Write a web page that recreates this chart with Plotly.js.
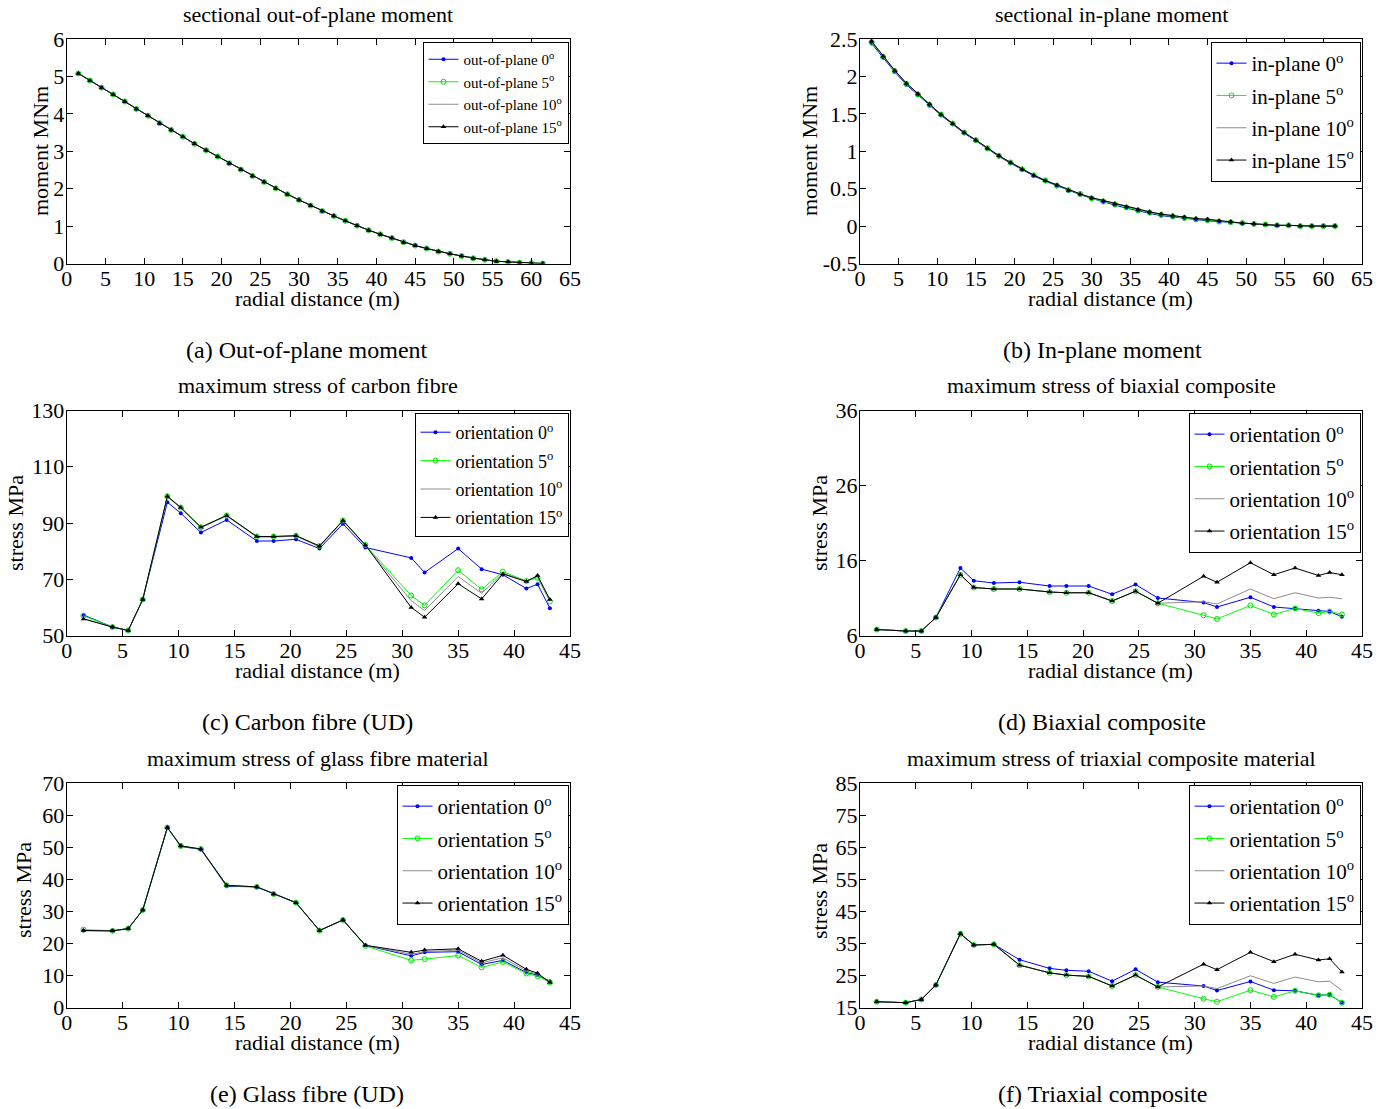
<!DOCTYPE html>
<html><head><meta charset="utf-8">
<script src="https://cdn.plot.ly/plotly-3.0.1.min.js"></script>
<style>html,body{margin:0;padding:0;background:#fff}</style>
</head><body><div id="chart" style="width:1392px;height:1109px"></div>
<script>
const W = 1392, H = 1109;

// ---------------- data ----------------
const momentX = [1.5,3,4.5,6,7.5,9,10.5,12,13.5,15,16.5,18,19.5,21,22.5,24,25.5,27,28.5,30,31.5,33,34.5,36,37.5,39,40.5,42,43.5,45,46.5,48,49.5,51,52.5,54,55.5,57,58.5,60,61.5];
const outPlane = [5.08,4.89,4.70,4.52,4.33,4.13,3.95,3.75,3.57,3.39,3.20,3.03,2.86,2.68,2.51,2.34,2.18,2.01,1.85,1.70,1.55,1.40,1.27,1.14,1.01,0.89,0.78,0.68,0.57,0.48,0.40,0.32,0.26,0.20,0.14,0.10,0.06,0.04,0.02,0.01,0.00];
const inPlane0 = [2.44,2.25,2.06,1.89,1.75,1.61,1.48,1.36,1.24,1.14,1.03,0.93,0.84,0.75,0.67,0.60,0.54,0.47,0.42,0.37,0.32,0.28,0.24,0.20,0.17,0.14,0.12,0.10,0.08,0.07,0.06,0.05,0.03,0.02,0.02,0.01,0.01,0.00,0.00,0.00,0.00];
const inPlane5 = [2.46,2.26,2.07,1.90,1.76,1.62,1.49,1.37,1.25,1.15,1.04,0.94,0.85,0.76,0.68,0.61,0.54,0.48,0.43,0.37,0.33,0.29,0.25,0.21,0.18,0.15,0.13,0.11,0.09,0.08,0.06,0.05,0.04,0.03,0.02,0.01,0.01,0.00,0.00,0.00,0.00];
const inPlane10 = [2.47,2.27,2.08,1.91,1.77,1.63,1.49,1.37,1.25,1.15,1.04,0.94,0.85,0.76,0.68,0.61,0.55,0.48,0.43,0.38,0.34,0.30,0.26,0.22,0.19,0.16,0.14,0.12,0.10,0.09,0.07,0.06,0.04,0.03,0.02,0.01,0.01,0.00,0.00,0.00,0.00];
const inPlane15 = [2.47,2.27,2.08,1.91,1.77,1.63,1.49,1.37,1.25,1.15,1.04,0.94,0.85,0.76,0.68,0.61,0.55,0.48,0.43,0.38,0.34,0.30,0.26,0.22,0.19,0.16,0.14,0.12,0.10,0.09,0.07,0.06,0.04,0.03,0.02,0.01,0.01,0.00,0.00,0.00,0.00];

const stressX = [1.5,4.1,5.5,6.8,9.0,10.2,12.0,14.3,17.0,18.5,20.5,22.6,24.7,26.7,30.8,32.0,35.0,37.1,39.0,41.1,42.1,43.2];

const carbon0  = [57.3,53.0,51.8,62.8,97.4,93.5,86.6,91.1,83.6,83.6,84.2,80.9,89.7,81.3,77.6,72.4,80.9,73.6,71.6,66.7,68.2,59.7];
const carbon5  = [57.0,53.0,51.8,62.8,99.5,95.5,88.5,92.7,85.2,85.2,85.5,81.8,90.9,82.2,64.2,60.7,73.2,66.4,72.7,69.4,70.5,62.1];
const carbon10 = [56.0,53.0,51.8,62.8,99.3,95.3,88.3,92.5,85.0,85.0,85.3,81.6,90.7,82.0,62.4,58.9,71.0,65.0,72.2,69.2,71.1,62.4];
const carbon15 = [55.9,53.0,51.8,62.8,99.5,95.5,88.5,92.7,85.2,85.2,85.5,81.8,90.9,82.2,60.0,56.5,68.4,63.0,71.9,69.2,71.3,62.8];

const biax0  = [6.8,6.6,6.6,8.4,15.0,13.3,13.0,13.1,12.6,12.6,12.6,11.5,12.8,11.0,10.4,9.8,11.1,9.8,9.6,9.3,9.2,8.5];
const biax5  = [6.8,6.6,6.6,8.4,14.1,12.4,12.2,12.2,11.8,11.7,11.7,10.6,11.9,10.3,8.7,8.2,10.0,8.8,9.6,9.0,9.2,8.8];
const biax10 = [6.8,6.6,6.6,8.4,14.1,12.4,12.2,12.2,11.8,11.7,11.7,10.6,11.9,10.3,10.5,10.2,12.2,10.9,11.7,11.0,11.1,10.9];
const biax15 = [6.8,6.6,6.6,8.4,14.1,12.4,12.2,12.2,11.8,11.7,11.7,10.6,11.9,10.3,13.9,13.1,15.7,14.1,15.0,14.0,14.4,14.1];

const glass0  = [24.0,23.9,24.6,30.4,56.1,50.2,49.3,37.8,37.6,35.4,32.7,24.0,27.3,19.4,16.1,17.2,17.4,13.4,14.7,10.9,10.1,8.2];
const glass5  = [24.3,23.9,24.6,30.4,56.1,50.4,49.4,38.1,37.6,35.4,32.7,24.0,27.3,19.2,14.7,15.1,16.2,12.5,14.2,10.6,9.8,7.8];
const glass10 = [24.0,23.9,24.6,30.4,56.1,50.4,49.4,38.1,37.6,35.4,32.7,24.0,27.3,19.4,16.6,17.4,17.9,13.9,15.5,11.4,10.4,7.9];
const glass15 = [24.0,23.9,24.6,30.4,56.1,50.4,49.4,38.1,37.6,35.4,32.7,24.0,27.3,19.4,17.2,17.9,18.3,14.4,16.3,11.9,10.7,7.8];

const triax0  = [16.8,16.5,17.5,22.0,38.0,34.5,34.7,29.9,27.2,26.6,26.3,23.2,26.9,22.9,21.7,20.3,23.1,20.4,20.2,18.8,19.0,16.5];
const triax5  = [16.8,16.5,17.5,22.0,38.0,34.5,34.7,28.2,25.8,25.1,24.7,21.7,25.1,21.4,17.7,16.8,20.4,18.3,20.2,18.8,19.0,16.5];
const triax10 = [16.8,16.5,17.5,22.0,38.0,34.5,34.7,28.2,25.8,25.1,24.7,21.7,25.1,21.4,21.7,20.9,24.9,22.5,24.5,23.0,23.2,20.3];
const triax15 = [16.8,16.5,17.5,22.0,38.0,34.5,34.7,28.2,25.8,25.1,24.7,21.7,25.1,21.4,28.5,26.8,32.2,29.3,31.6,29.8,30.2,26.1];

const momentLabels = ['out-of-plane 0<sup>o</sup>','out-of-plane 5<sup>o</sup>','out-of-plane 10<sup>o</sup>','out-of-plane 15<sup>o</sup>'];
const inLabels = ['in-plane 0<sup>o</sup>','in-plane 5<sup>o</sup>','in-plane 10<sup>o</sup>','in-plane 15<sup>o</sup>'];
const orientLabels = ['orientation 0<sup>o</sup>','orientation 5<sup>o</sup>','orientation 10<sup>o</sup>','orientation 15<sup>o</sup>'];

const panelTitles = ['sectional out-of-plane moment','sectional in-plane moment','maximum stress of carbon fibre','maximum stress of biaxial composite','maximum stress of glass fibre material','maximum stress of triaxial composite material'];
const captions = ['(a) Out-of-plane moment','(b) In-plane moment','(c) Carbon fibre (UD)','(d) Biaxial composite','(e) Glass fibre (UD)','(f) Triaxial composite'];
const xTitle = 'radial distance (m)';

// ---------------- styling ----------------
const FONT = 'Liberation Serif, Times New Roman, serif';
const px = v => v / W;
const py = v => 1 - v / H;

const styles = [
  {color:'#0000ff', marker:{symbol:'circle', size:4, color:'#0000ff'}, width:1},
  {color:'#00ff00', marker:{symbol:'circle-open', size:5, color:'#00e000', line:{width:1}}, width:1},
  {color:'#8c8c8c', marker:null, width:1},
  {color:'#000000', marker:{symbol:'triangle-up', size:5, color:'#000000'}, width:1}
];

const cols = [[66.7, 570], [860, 1362]];
const rows = [[39, 263.5], [410.5, 635.5], [783, 1007.5]];
const yTitlePos = [[40,151],[809,151],[15,523],[819,523],[23,890],[819,891]];

const panels = [
  {x: momentX, ys:[outPlane,outPlane,outPlane,outPlane], labels: momentLabels, xr:[0,65], yr:[0,6], yt:[0,1,2,3,4,5,6], ytt:['0','1','2','3','4','5','6'], ytitle:'moment MNm', legFont:15, legGap:0, legTop:42},
  {x: momentX, ys:[inPlane0,inPlane5,inPlane10,inPlane15], labels: inLabels, xr:[0,65], yr:[-0.5,2.5], yt:[-0.5,0,0.5,1,1.5,2,2.5], ytt:['-0.5','0','0.5','1','1.5','2','2.5'], ytitle:'moment MNm', legFont:21, legGap:2, legTop:42},
  {x: stressX, ys:[carbon0,carbon5,carbon10,carbon15], labels: orientLabels, xr:[0,45], yr:[50,130], yt:[50,70,90,110,130], ytt:['50','70','90','110','130'], ytitle:'stress MPa', legFont:18, legGap:2, legTop:413},
  {x: stressX, ys:[biax0,biax5,biax10,biax15], labels: orientLabels, xr:[0,45], yr:[6,36], yt:[6,16,26,36], ytt:['6','16','26','36'], ytitle:'stress MPa', legFont:21, legGap:2, legTop:413},
  {x: stressX, ys:[glass0,glass5,glass10,glass15], labels: orientLabels, xr:[0,45], yr:[0,70], yt:[0,10,20,30,40,50,60,70], ytt:['0','10','20','30','40','50','60','70'], ytitle:'stress MPa', legFont:21, legGap:2, legTop:785},
  {x: stressX, ys:[triax0,triax5,triax10,triax15], labels: orientLabels, xr:[0,45], yr:[15,85], yt:[15,25,35,45,55,65,75,85], ytt:['15','25','35','45','55','65','75','85'], ytitle:'stress MPa', legFont:21, legGap:2, legTop:785}
];

const traces = [];
const layout = {
  width: W, height: H,
  margin: {l:0, r:0, t:0, b:0},
  paper_bgcolor: '#ffffff', plot_bgcolor: '#ffffff',
  font: {family: FONT, size: 22, color: '#000'},
  showlegend: true,
  annotations: []
};

panels.forEach((p, i) => {
  const c = cols[i % 2], r = rows[Math.floor(i / 2)];
  const n = i + 1;
  const xa = 'xaxis' + (n === 1 ? '' : n), ya = 'yaxis' + (n === 1 ? '' : n);
  const xref = 'x' + (n === 1 ? '' : n), yref = 'y' + (n === 1 ? '' : n);
  const leg = 'legend' + (n === 1 ? '' : n);
  layout[xa] = {
    domain: [px(c[0]), px(c[1])], anchor: yref, range: p.xr, dtick: 5, tick0: 0,
    ticks: 'inside', ticklen: 6, tickwidth: 1, tickcolor: '#000',
    showline: true, linecolor: '#000', linewidth: 1, mirror: 'ticks',
    showgrid: false, zeroline: false, ticklabelstandoff: -5,
    tickfont: {family: FONT, size: 22, color: '#000'}
  };
  layout[ya] = {
    domain: [py(r[1]), py(r[0])], anchor: xref, range: p.yr,
    tickmode: 'array', tickvals: p.yt, ticktext: p.ytt,
    ticks: 'inside', ticklen: 6, tickwidth: 1, tickcolor: '#000',
    showline: true, linecolor: '#000', linewidth: 1, mirror: 'ticks',
    showgrid: false, zeroline: false, ticklabelstandoff: -3,
    tickfont: {family: FONT, size: 22, color: '#000'}
  };
  layout[leg] = {
    x: px(c[1] - 1.5), y: py(p.legTop), xanchor: 'right', yanchor: 'top',
    bgcolor: '#ffffff', bordercolor: '#000', borderwidth: 1,
    font: {family: FONT, size: p.legFont, color: '#000'},
    traceorder: 'grouped', tracegroupgap: p.legGap, itemwidth: 30
  };
  p.ys.forEach((y, k) => {
    const s = styles[k];
    const t = {
      type: 'scatter', x: p.x, y: y, xaxis: xref, yaxis: yref,
      name: p.labels[k], legend: leg, legendgroup: 'g' + n + '_' + k,
      mode: s.marker ? 'lines+markers' : 'lines',
      line: {color: s.color, width: s.width}
    };
    if (s.marker) t.marker = s.marker;
    traces.push(t);
  });
  // panel title
  layout.annotations.push({
    text: panelTitles[i], xref: 'paper', yref: 'paper',
    x: px((c[0] + c[1]) / 2), y: py(r[0] - 25), xanchor: 'center', yanchor: 'middle',
    showarrow: false, font: {family: FONT, size: 22, color: '#000'}
  });
  // x-axis title
  layout.annotations.push({
    text: xTitle, xref: 'paper', yref: 'paper',
    x: px((c[0] + c[1]) / 2 - 1), y: py(r[1] + 35), xanchor: 'center', yanchor: 'middle',
    showarrow: false, font: {family: FONT, size: 22, color: '#000'}
  });
  // y-axis title
  layout.annotations.push({
    text: p.ytitle, xref: 'paper', yref: 'paper', textangle: -90,
    x: px(yTitlePos[i][0]), y: py(yTitlePos[i][1]), xanchor: 'center', yanchor: 'middle',
    showarrow: false, font: {family: FONT, size: 22, color: '#000'}
  });
  // caption
  layout.annotations.push({
    text: captions[i], xref: 'paper', yref: 'paper',
    x: px(i % 2 === 0 ? 307 : 1102), y: py(r[1] + 86), xanchor: 'center', yanchor: 'middle',
    showarrow: false, font: {family: FONT, size: 24, color: '#000'}
  });
});

Plotly.newPlot('chart', traces, layout, {staticPlot: true, displayModeBar: false});
</script>
</body></html>
